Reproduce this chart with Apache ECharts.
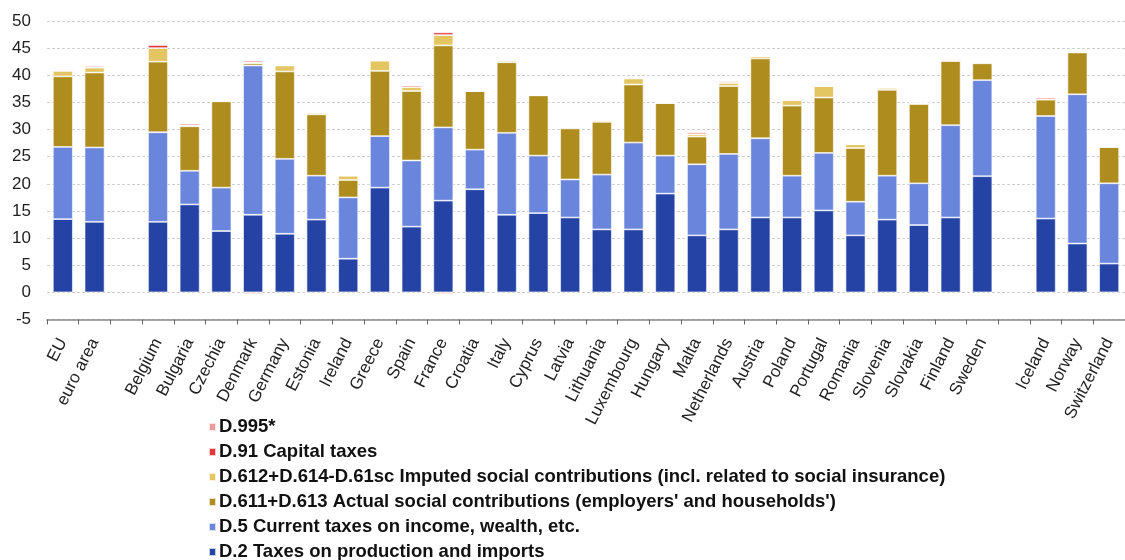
<!DOCTYPE html>
<html>
<head>
<meta charset="utf-8">
<script src="https://cdn.jsdelivr.net/npm/echarts@6/dist/echarts.min.js"></script>
<style>
html,body{margin:0;padding:0;background:#fff;}
#chart{width:1125px;height:560px;}
</style>
</head>
<body>
<div id="chart"></div>
<script>
const categories = ['EU','euro area','','Belgium','Bulgaria','Czechia','Denmark','Germany','Estonia','Ireland','Greece','Spain','France','Croatia','Italy','Cyprus','Latvia','Lithuania','Luxembourg','Hungary','Malta','Netherlands','Austria','Poland','Portugal','Romania','Slovenia','Slovakia','Finland','Sweden','','Iceland','Norway','Switzerland'];

const d2   = [13.5,13.0,'-',13.0,16.2,11.3,14.3,10.8,13.4,6.2,19.3,12.1,16.9,19.0,14.3,14.6,13.8,11.6,11.6,18.2,10.5,11.6,13.8,13.8,15.1,10.5,13.4,12.4,13.8,21.4,'-',13.6,9.0,5.3];
const d5   = [13.3,13.7,'-',16.5,6.2,8.0,27.5,13.8,8.1,11.3,9.5,12.2,13.5,7.3,15.1,10.6,7.0,10.1,16.0,7.0,13.1,13.9,14.6,7.7,10.6,6.2,8.1,7.7,17.0,17.7,'-',18.9,27.5,14.8];
const d611 = [13.0,13.8,'-',13.0,8.2,15.9,0.4,16.1,11.3,3.2,12.0,12.8,15.1,10.8,13.0,11.1,9.4,9.7,10.7,9.7,5.1,12.5,14.7,12.9,10.2,9.9,15.8,14.6,11.8,3.1,'-',3.0,7.7,6.7];
const d612 = [1.0,0.9,'-',2.5,0.2,0.1,0.2,1.1,0.3,0.8,1.9,0.7,1.9,0,0.3,0,0.2,0.3,1.1,0,0.4,0.6,0.4,1.0,2.1,0.7,0.4,0.2,0.2,0.2,'-',0.1,0,0];
const d91  = [0.1,0.1,'-',0.6,0.3,0,0.3,0,0,0,0,0.3,0.5,0,0,0,0,0,0.1,0,0,0,0,0,0,0,0,0,0.2,0,'-',0.3,0,0];
const d995 = [0.2,0.3,'-',0,0,0,-0.3,0,0,0,0,0,-0.3,0,0,0,0,0,0.2,0,0.4,0.3,0,0,0,0,0,0,0,0,'-',0,0,0];

const seriesNames = [
  'D.2 Taxes on production and imports',
  'D.5 Current taxes on income, wealth, etc.',
  "D.611+D.613 Actual social contributions (employers' and households')",
  'D.612+D.614-D.61sc Imputed social contributions (incl. related to social insurance)',
  'D.91 Capital taxes',
  'D.995*'
];
const seriesData = [d2, d5, d611, d612, d91, d995];
const colors = ['#2543A5','#6A85DC','#AE8C1E','#E3C562','#E0383C','#EC9B9B'];
const yTicks = {min:-5, max:50, interval:5};

const chart = echarts.init(document.getElementById('chart'), null, {renderer:'canvas'});
const option = {
  animation:false,
  backgroundColor:'#fff',
  grid:{left:47, right:-3, top:21, bottom:240.5, containLabel:false},
  legend:{
    orient:'vertical',
    left:203, top:412, height:148,
    itemWidth:7, itemHeight:8, itemGap:5,
    icon:'rect',
    data:seriesNames.slice().reverse(),
    textStyle:{fontFamily:'"Liberation Sans",Arial,sans-serif', fontWeight:'bold', fontSize:18.5, lineHeight:20, color:'#111', padding:[0,0,0,-2]}
  },
  xAxis:{
    type:'category',
    data:categories,
    boundaryGap:true,
    axisLine:{onZero:false, lineStyle:{color:'#888', width:1.5}},
    axisTick:{show:true, alignWithLabel:false, length:5, interval:0, lineStyle:{color:'#666'}},
    axisLabel:{interval:0, rotate:63, margin:20, fontSize:17, color:'#222', fontFamily:'"Liberation Sans",Arial,sans-serif'},
    splitLine:{show:false}
  },
  yAxis:{
    type:'value',
    min:yTicks.min, max:yTicks.max, interval:yTicks.interval,
    axisLine:{show:false},
    axisTick:{show:false},
    axisLabel:{fontSize:17, color:'#222', margin:16, fontFamily:'"Liberation Sans",Arial,sans-serif'},
    splitLine:{lineStyle:{color:'#d0d0d0', type:[3,2], width:1}}
  },
  series: seriesNames.map((n,i)=>({
    name:n, type:'bar', stack:'total',
    data:seriesData[i],
    barCategoryGap:'37%',
    itemStyle:{color:colors[i], borderColor:'rgba(255,255,255,0.75)', borderWidth:0.8},
    emphasis:{disabled:true}
  }))
};
chart.setOption(option);
</script>
</body>
</html>
